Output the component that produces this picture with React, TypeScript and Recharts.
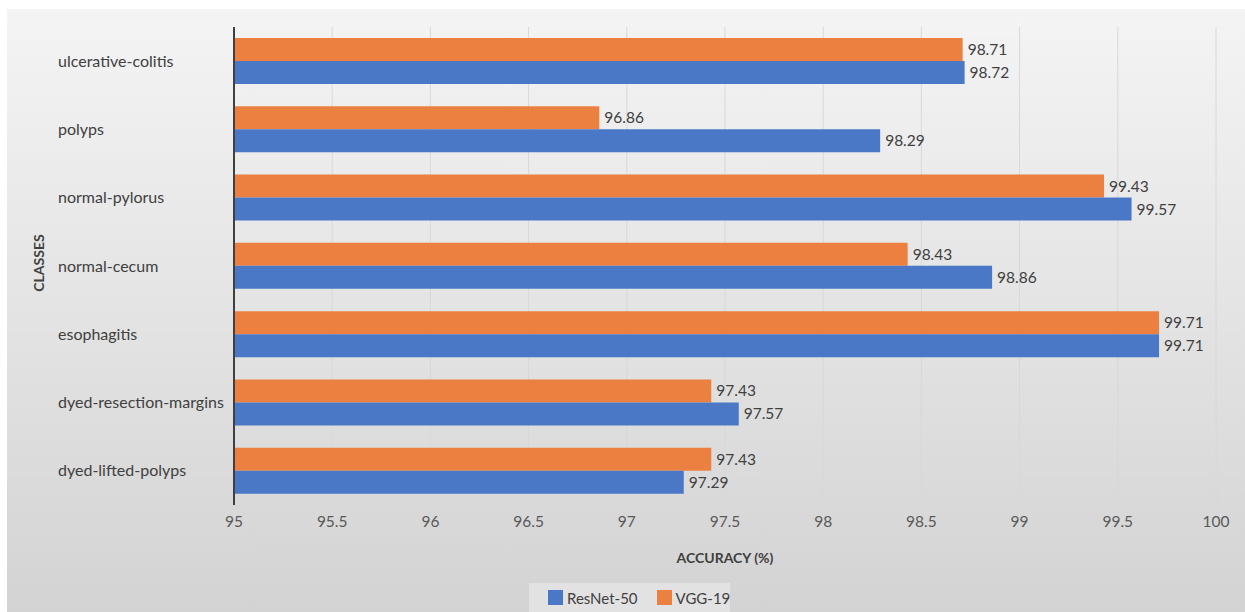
import { BarChart, Bar, XAxis, YAxis, CartesianGrid, LabelList } from "recharts";

const classes = [
  "ulcerative-colitis",
  "polyps",
  "normal-pylorus",
  "normal-cecum",
  "esophagitis",
  "dyed-resection-margins",
  "dyed-lifted-polyps",
];
const resnet50 = [98.72, 98.29, 99.57, 98.86, 99.71, 97.57, 97.29];
const vgg19 = [98.71, 96.86, 99.43, 98.43, 99.71, 97.43, 97.43];
const xTicks = [95, 95.5, 96, 96.5, 97, 97.5, 98, 98.5, 99, 99.5, 100];

const BLUE = "#4a78c6";
const ORANGE = "#ec8040";
const FONT = "Lato, 'Open Sans', sans-serif";

const data = classes.map((name, i) => ({ name, resnet: resnet50[i], vgg: vgg19[i] }));

function ClassTick(props: any) {
  const { y, payload } = props;
  return (
    <text x={58} y={y} dy="0.35em" textAnchor="start" fill="#404040" fontSize={16} fontFamily={FONT}>
      {payload.value}
    </text>
  );
}

export default function App() {
  return (
    <div style={{ position: "absolute", left: 0, top: 0, width: 1245, height: 612, background: "#fff", overflow: "hidden" }}>
      <div
        style={{
          position: "absolute",
          left: 7,
          top: 9,
          width: 1238,
          height: 603,
          background: "linear-gradient(to bottom, #f4f4f4 0%, #e2e2e2 55%, #d3d3d3 100%)",
        }}
      />
      <div style={{ position: "absolute", left: 0, top: 0 }}>
        <BarChart
          width={1245}
          height={612}
          data={data}
          layout="vertical"
          margin={{ top: 27, right: 29, bottom: 77, left: 0 }}
          barGap={0}
        >
          <CartesianGrid horizontal={false} stroke="#d8d8d8" strokeWidth={1} />
          <XAxis
            type="number"
            domain={[95, 100]}
            ticks={xTicks}
            height={30}
            axisLine={false}
            tickLine={false}
            tickMargin={5}
            tick={{ fill: "#595959", fontSize: 15.5, fontFamily: FONT }}
            interval={0}
          />
          <YAxis
            type="category"
            dataKey="name"
            width={234}
            axisLine={{ stroke: "#404040", strokeWidth: 2 }}
            tickLine={false}
            tick={<ClassTick />}
            interval={0}
          />
          <Bar dataKey="vgg" name="VGG-19" fill={ORANGE} barSize={23} isAnimationActive={false}>
            <LabelList dataKey="vgg" position="right" offset={5} fill="#404040" fontSize={15.5} fontFamily={FONT} />
          </Bar>
          <Bar dataKey="resnet" name="ResNet-50" fill={BLUE} barSize={23} isAnimationActive={false}>
            <LabelList dataKey="resnet" position="right" offset={5} fill="#404040" fontSize={15.5} fontFamily={FONT} />
          </Bar>
        </BarChart>
      </div>
      <div
        style={{
          position: "absolute",
          left: 38,
          top: 263,
          transform: "translate(-50%, -50%) rotate(-90deg)",
          fontFamily: FONT,
          fontWeight: 700,
          fontSize: 14,
          color: "#404040",
          whiteSpace: "nowrap",
        }}
      >
        CLASSES
      </div>
      <div
        style={{
          position: "absolute",
          left: 725,
          top: 557,
          transform: "translate(-50%, -50%)",
          fontFamily: FONT,
          fontWeight: 700,
          fontSize: 14,
          color: "#404040",
          whiteSpace: "nowrap",
        }}
      >
        ACCURACY (%)
      </div>
      <div
        style={{
          position: "absolute",
          left: 529,
          top: 583,
          width: 201,
          height: 29,
          background: "#e2e2e2",
          display: "flex",
          alignItems: "center",
          fontFamily: FONT,
          fontSize: 15,
          color: "#404040",
          whiteSpace: "nowrap",
        }}
      >
        <span style={{ flexShrink: 0, display: "inline-block", width: 15, height: 15, background: BLUE, marginLeft: 19, marginRight: 4 }} />
        <span style={{ flexShrink: 0 }}>ResNet-50</span>
        <span style={{ flexShrink: 0, display: "inline-block", width: 15, height: 15, background: ORANGE, marginLeft: 19, marginRight: 4 }} />
        <span style={{ flexShrink: 0 }}>VGG-19</span>
      </div>
    </div>
  );
}
